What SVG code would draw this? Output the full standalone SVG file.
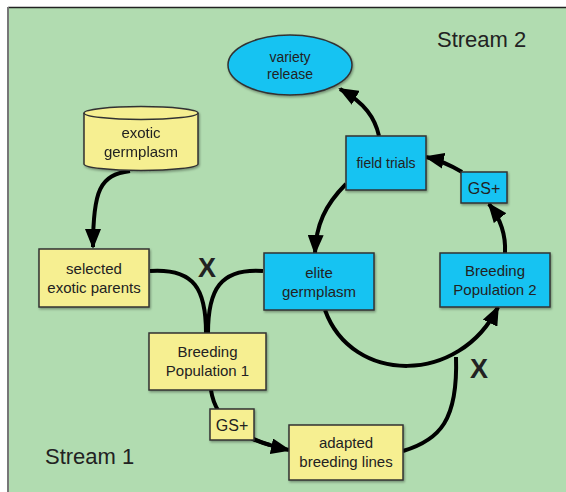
<svg xmlns="http://www.w3.org/2000/svg" width="566" height="492" viewBox="0 0 566 492">
<style>
.lbl{font-family:"Liberation Sans",Arial,sans-serif;font-size:15px;fill:#222;text-anchor:middle}
.big{font-family:"Liberation Sans",Arial,sans-serif;font-size:22px;fill:#222}
.x{font-family:"Liberation Sans",Arial,sans-serif;font-size:27px;font-weight:bold;fill:#222;text-anchor:middle}
.y{fill:#f6ef91;stroke:#333;stroke-width:1.5}
.c{fill:#18c3f2;stroke:#333;stroke-width:1.5}
.e{fill:none;stroke:#000;stroke-width:4}
.a{fill:none;stroke:#000;stroke-width:4;marker-end:url(#ah)}
</style>
<defs>
<marker id="ah" markerUnits="userSpaceOnUse" markerWidth="20" markerHeight="16" viewBox="0 0 20 16" refX="18" refY="8" orient="auto">
<path d="M0,0 L20,8 L0,16 Z" fill="#000"/>
</marker>
<filter id="sh" x="-10%" y="-10%" width="130%" height="130%">
<feDropShadow dx="1" dy="1.5" stdDeviation="1.2" flood-color="#000" flood-opacity="0.35"/>
</filter>
</defs>
<rect x="0" y="0" width="566" height="492" fill="#fff"/>
<rect x="8" y="7" width="558" height="485" fill="#b1dcb0"/>
<line x1="8" y1="7.5" x2="566" y2="7.5" stroke="#222" stroke-width="1.5"/>
<line x1="8" y1="7" x2="8" y2="492" stroke="#777" stroke-width="2"/>
<text class="big" x="437" y="47">Stream 2</text>
<text class="big" x="45" y="464">Stream 1</text>
<g id="connectors">
<path class="a" d="M130,171 C100,175 93,190 93,247"/>
<path class="e" d="M150,271 C195,268 206,290 206,333"/>
<path class="e" d="M263,271 C220,268 208,290 208,333"/>
<path class="e" d="M211,390 C216,425 250,440 270,445"/>
<path class="a" d="M240,432 C255,441 270,446 289,450"/>
<path class="a" d="M325,310 C352,385 460,385 498,307"/>
<path class="e" d="M403,451 C440,440 458,420 456,357"/>
<path class="a" d="M505,253 C506,235 500,218 489,204"/>
<path class="a" d="M462,172 C450,165 440,160 426,157"/>
<path class="a" d="M379,136 C375,118 365,103 340,89"/>
<path class="a" d="M346,184 C325,205 316,225 315,253"/>
</g>
<text class="x" x="207" y="277">X</text>
<text class="x" x="479" y="378">X</text>
<g id="variety-release">
<ellipse class="c" cx="290" cy="65" rx="62" ry="30" filter="url(#sh)"/>
<text class="lbl" x="290" y="62" style="font-size:14px">variety</text>
<text class="lbl" x="290" y="79" style="font-size:14px">release</text>
</g>
<g id="exotic-germplasm" filter="url(#sh)">
<path class="y" d="M84,113 L84,164 A57,6.5 0 0 0 198,164 L198,113 A57,6.5 0 0 0 84,113 Z"/>
<path d="M84,113 A57,6.5 0 0 0 198,113" fill="none" stroke="#333" stroke-width="1.5"/>
<text class="lbl" x="141" y="138">exotic</text>
<text class="lbl" x="141" y="157">germplasm</text>
</g>
<g id="selected-exotic-parents">
<rect class="y" x="39" y="249" width="110" height="58" filter="url(#sh)"/>
<text class="lbl" x="94" y="274">selected</text>
<text class="lbl" x="94" y="293">exotic parents</text>
</g>
<g id="elite-germplasm">
<rect class="c" x="264" y="253" width="110" height="57" filter="url(#sh)"/>
<text class="lbl" x="319" y="278">elite</text>
<text class="lbl" x="319" y="297">germplasm</text>
</g>
<g id="breeding-population-2">
<rect class="c" x="440" y="253" width="110" height="54" filter="url(#sh)"/>
<text class="lbl" x="495" y="276">Breeding</text>
<text class="lbl" x="495" y="295">Population 2</text>
</g>
<g id="gs-plus-2">
<rect class="c" x="461" y="172" width="46" height="31" filter="url(#sh)"/>
<text class="lbl" x="484" y="194" style="font-size:16px">GS+</text>
</g>
<g id="field-trials">
<rect class="c" x="346" y="136" width="80" height="54" filter="url(#sh)"/>
<text class="lbl" x="386" y="168" style="font-size:14px">field trials</text>
</g>
<g id="breeding-population-1">
<rect class="y" x="149" y="333" width="117" height="57" filter="url(#sh)"/>
<text class="lbl" x="207.5" y="357">Breeding</text>
<text class="lbl" x="207.5" y="376">Population 1</text>
</g>
<g id="gs-plus-1">
<rect class="y" x="210" y="409" width="44" height="31" filter="url(#sh)"/>
<text class="lbl" x="232" y="431" style="font-size:16px">GS+</text>
</g>
<g id="adapted-breeding-lines">
<rect class="y" x="289" y="425" width="114" height="55" filter="url(#sh)"/>
<text class="lbl" x="346" y="448">adapted</text>
<text class="lbl" x="346" y="467">breeding lines</text>
</g>
</svg>
